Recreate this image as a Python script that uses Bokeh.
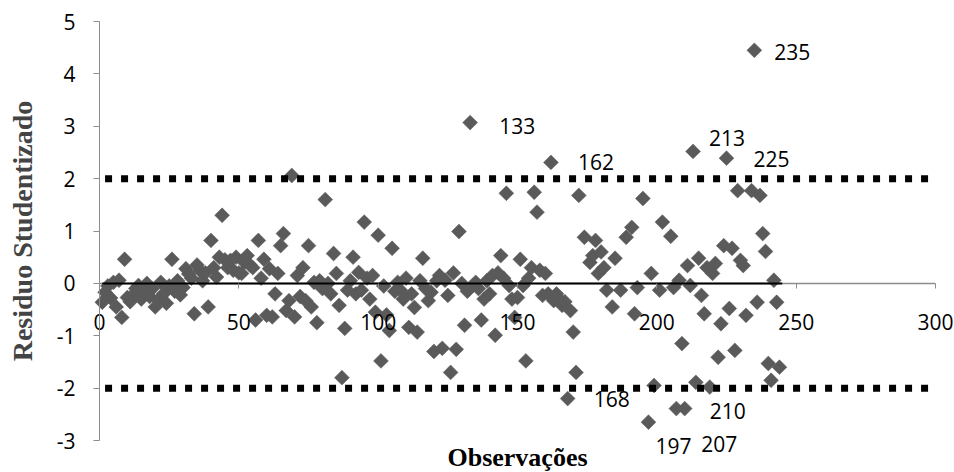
import numpy as np
from bokeh.plotting import figure
from bokeh.models import Range1d, LinearAxis, FixedTicker, ColumnDataSource, LabelSet, Label
from bokeh.embed import file_html
from bokeh.resources import INLINE
from bokeh.core.properties import value

# ---------------- data ----------------
obs = [
    1, 2, 3, 4, 5, 6, 7, 8, 9, 10, 11, 12, 13, 14, 15, 16, 17, 18, 19, 20,
    21, 22, 23, 24, 25, 26, 27, 28, 29, 30, 31, 32, 33, 34, 35, 36, 37, 38, 39, 40,
    41, 42, 43, 44, 45, 46, 47, 48, 49, 50, 51, 52, 53, 54, 55, 56, 57, 58, 59, 60,
    61, 62, 63, 64, 65, 66, 67, 68, 69, 70, 71, 72, 73, 74, 75, 76, 77, 78, 79, 80,
    81, 82, 83, 84, 85, 86, 87, 88, 89, 90, 91, 92, 93, 94, 95, 96, 97, 98, 99, 100,
    101, 102, 103, 104, 105, 106, 107, 108, 109, 110, 111, 112, 113, 114, 115, 116, 117, 118, 119, 120,
    121, 122, 123, 124, 125, 126, 127, 128, 129, 130, 131, 132, 133, 134, 135, 136, 137, 138, 139, 140,
    141, 142, 143, 144, 145, 146, 147, 148, 149, 150, 151, 152, 153, 154, 155, 156, 157, 158, 159, 160,
    161, 162, 163, 164, 165, 166, 167, 168, 169, 170, 171, 172, 174, 176, 177, 178, 179, 180,
    181, 182, 184, 185, 187, 189, 191, 192, 193, 195, 197, 198, 199,
    201, 202, 205, 206, 207, 208, 209, 210, 211, 212, 213, 214, 215, 216, 217, 218, 219, 220,
    221, 222, 223, 224, 225, 226, 227, 228, 229, 230, 231, 232, 234, 235, 236, 237, 238, 239, 240,
    241, 242, 243, 244,
]
residuo = [
    -0.36, -0.17, -0.05, -0.28, 0.02, -0.45, 0.06, -0.65, 0.46, -0.27, -0.35, -0.22, -0.10, -0.04, -0.30, -0.15, 0.00, -0.25, -0.10, -0.45,
    -0.32, 0.02, -0.20, -0.38, -0.05, 0.46, -0.15, 0.05, -0.22, -0.08, 0.28, 0.18, 0.10, -0.58, 0.35, 0.25, 0.05, 0.20, -0.45, 0.82,
    0.30, 0.12, 0.50, 1.30, 0.45, 0.30, 0.44, 0.25, 0.50, 0.20, 0.19, 0.40, 0.53, 0.35, 0.30, -0.70, 0.82, 0.10, 0.46, -0.61,
    0.28, -0.64, -0.20, 0.19, 0.72, 0.95, -0.52, -0.33, 2.06, -0.64, 0.15, -0.25, 0.30, -0.33, 0.72, -0.45, 0.02, -0.75, 0.05, -0.10,
    1.60, 0.00, -0.20, 0.57, 0.19, -0.42, -1.80, -0.86, -0.13, 0.05, 0.50, -0.20, 0.21, -0.13, 1.17, 0.10, -0.30, 0.15, -0.55, 0.92,
    -1.48, -0.05, -0.60, -0.90, 0.67, -0.15, 0.02, -0.13, -0.30, 0.10, -0.84, -0.20, -0.46, -0.93, 0.05, 0.48, -0.10, -0.33, -0.17, -1.30,
    0.05, 0.15, -1.24, 0.06, -0.23, -1.70, 0.20, -1.26, 0.99, 0.00, -0.80, -0.15, 3.07, -0.04, 0.02, -0.10, -0.70, -0.30, 0.05, -0.20,
    0.15, -0.99, 0.20, 0.53, 0.10, 1.72, -0.04, -0.30, -0.65, -0.27, 0.46, -0.04, -1.48, 0.10, 0.30, 1.74, 1.36, 0.25, -0.23, 0.19,
    -0.20, 2.31, -0.33, -0.20, -0.30, -0.42, -0.35, -2.20, -0.52, -0.93, -1.70, 1.68, 0.88, 0.40, 0.53, 0.82, 0.19, 0.60,
    0.30, -0.13, -0.45, 0.48, -0.13, 0.88, 1.07, -0.58, -0.08, 1.62, -2.65, 0.19, -1.95,
    -0.13, 1.17, 0.90, -0.08, -2.39, 0.06, -1.15, -2.39, 0.34, -0.04, 2.52, -1.89, 0.48, -0.23, -0.58, 0.30, -1.98, 0.19,
    0.38, -1.41, -0.77, 0.72, 2.39, -0.48, 0.67, -1.28, 1.77, 0.44, 0.34, -0.61, 1.77, 4.45, -0.36, 1.68, 0.95, 0.61, -1.53,
    -1.85, 0.06, -0.36, -1.60,
]
labeled_obs = [235, 133, 213, 162, 225, 168, 210, 197, 207]
x_ticks = [0, 50, 100, 150, 200, 250, 300]
y_ticks = [-3, -2, -1, 0, 1, 2, 3, 4, 5]
limit = 2
zero_line_x = [1, 245]
limit_line_x = [2, 299]

# ---------------- styles / layout ----------------
label_offsets = {235: (20, 2), 133: (29, 3), 213: (16, -13), 162: (27, 0), 225: (27, 1),
                 168: (26, 0), 210: (25, 2), 197: (7, 24), 207: (25, 35)}
GRAY = "#5a5a5a"
AXIS_GRAY = "#8c8c8c"
TICK_FONT = "Open Sans"
TITLE_FONT = "Liberation Serif"
PX_PER_X = 836 / 300.0   # frame pixels per observation unit
PX_PER_Y = 419 / 8.0     # frame pixels per residual unit

x_start = 0 - 99 / PX_PER_X
x_end = 300 + 19 / PX_PER_X
y_start = -3 - 32 / PX_PER_Y
y_end = 5 + 21 / PX_PER_Y

p = figure(frame_width=954, frame_height=472, output_backend="svg", toolbar_location=None,
           x_range=Range1d(x_start, x_end), y_range=Range1d(y_start, y_end),
           x_axis_location=None, y_axis_location=None,
           min_border_left=0, min_border_right=0, min_border_top=0, min_border_bottom=0)
p.grid.visible = False
p.outline_line_color = None
p.background_fill_color = "white"
p.border_fill_color = "white"

# y axis, fixed at x = 0
yax = LinearAxis(ticker=FixedTicker(ticks=y_ticks), axis_label="Residuo Studentizado",
                 bounds=(y_ticks[0], y_ticks[-1]), fixed_location=0)
yax.major_label_overrides = {t: str(t) for t in y_ticks}
yax.axis_line_color = AXIS_GRAY
yax.major_tick_line_color = AXIS_GRAY
yax.major_tick_out = 6
yax.major_tick_in = 0
yax.minor_tick_line_color = None
yax.major_label_standoff = 18
yax.major_label_text_font = TICK_FONT
yax.major_label_text_font_size = "21px"
yax.major_label_text_color = "black"
yax.axis_label_text_font = TITLE_FONT
yax.axis_label_text_font_style = "bold"
yax.axis_label_text_font_size = "28px"
yax.axis_label_standoff = 16
p.add_layout(yax, "left")

# gray baseline of the x axis (under the marks)
p.line([x_ticks[0], x_ticks[-1]], [0, 0], line_color=AXIS_GRAY, line_width=1.5)

# x axis crossing at zero
xax = LinearAxis(ticker=FixedTicker(ticks=x_ticks), fixed_location=0)
xax.axis_line_color = None
xax.major_tick_line_color = AXIS_GRAY
xax.major_tick_out = 5
xax.major_tick_in = 0
xax.minor_tick_line_color = None
xax.major_label_standoff = 26
xax.major_label_text_font = TICK_FONT
xax.major_label_text_font_size = "21px"
xax.major_label_text_color = "black"
p.add_layout(xax, "below")

# x axis title
p.add_layout(Label(x=150, y=y_ticks[0], y_offset=-17, text="Observações",
                   text_font=TITLE_FONT, text_font_style="bold", text_font_size="26px",
                   text_align="center", text_baseline="alphabetic", text_color="black"))

src = ColumnDataSource(dict(x=obs, y=residuo))
p.scatter("x", "y", source=src, marker="square", angle=np.pi / 4, size=10.5,
          fill_color=GRAY, line_color=GRAY, line_width=0.5)

# zero series line
p.line(zero_line_x, [0, 0], line_color="black", line_width=2)
# limits
for lv in (limit, -limit):
    p.line(limit_line_x, [lv, lv], line_color="black", line_width=7, line_dash="7 9")

# point labels
lookup = dict(zip(obs, residuo))
lab = ColumnDataSource(dict(
    x=labeled_obs, y=[lookup[o] for o in labeled_obs], t=[str(o) for o in labeled_obs],
    xo=[label_offsets[o][0] for o in labeled_obs], yo=[-label_offsets[o][1] for o in labeled_obs]))
p.add_layout(LabelSet(x="x", y="y", text="t", source=lab, x_offset="xo", y_offset="yo",
                      text_font=value(TICK_FONT), text_font_size="21px", text_color="black",
                      text_align="left", text_baseline="middle"))

open("out.html", "w").write(file_html(p, INLINE))
